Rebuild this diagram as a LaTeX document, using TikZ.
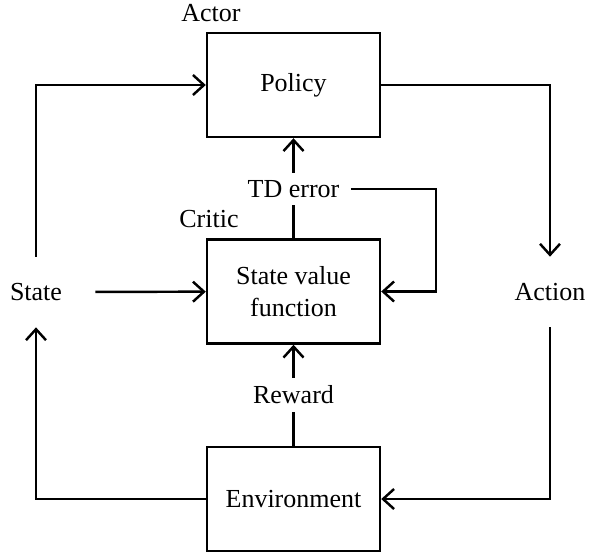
\documentclass[tikz,border=0pt]{standalone}
\usepackage{fontspec}
\setmainfont{Liberation Serif}
\usetikzlibrary{arrows.meta}
\tikzset{
  block/.style={draw,line width=1.4pt,minimum width=3.46cm,minimum height=2.08cm,inner sep=0pt,align=center},
  lbl/.style={inner sep=0pt,align=center},
  flow/.style={line width=1.4pt,-{Straight Barb[length=2.2mm,width=4mm,line width=1.4pt]}}
}
\begin{document}
\begin{tikzpicture}[x=0.02cm,y=-0.02cm,font=\fontsize{14.8}{18}\selectfont]
      \useasboundingbox (0,0) rectangle (590,554);
      \draw
        (293.5,85) node[block] (policy){Policy}
        (293.5,291.5) node[block] (value){State value\\function}
        (293.5,499) node[block] (env){Environment}
        (211,13) node[lbl] (actor){Actor}
        (209,219) node[lbl] (critic){Critic}
        (293.5,189) node[lbl,minimum width=2.28cm,minimum height=0.64cm] (td){TD error}
        (293.5,395) node[lbl,minimum height=0.68cm] (reward){Reward}
        (36,292) node[lbl,minimum width=2.36cm,minimum height=1.4cm] (state){State}
        (550,292) node[lbl,minimum height=1.4cm] (action){Action};
      \coordinate (tdturn) at (436,189);
      \begin{scope}[flow]
        \draw (state) |- (policy);
        \draw (state) -- (value);
        \draw (env) -| (state);
        \draw (policy) -| (action);
        \draw (action) |- (env);
        \draw[-] (env) -- (reward);
        \draw (reward) -- (value);
        \draw[-] (value) -- (td);
        \draw (td) -- (policy);
        \draw (td.east) -- (tdturn) |- (value.east);
      \end{scope}
    \end{tikzpicture}
\end{document}
